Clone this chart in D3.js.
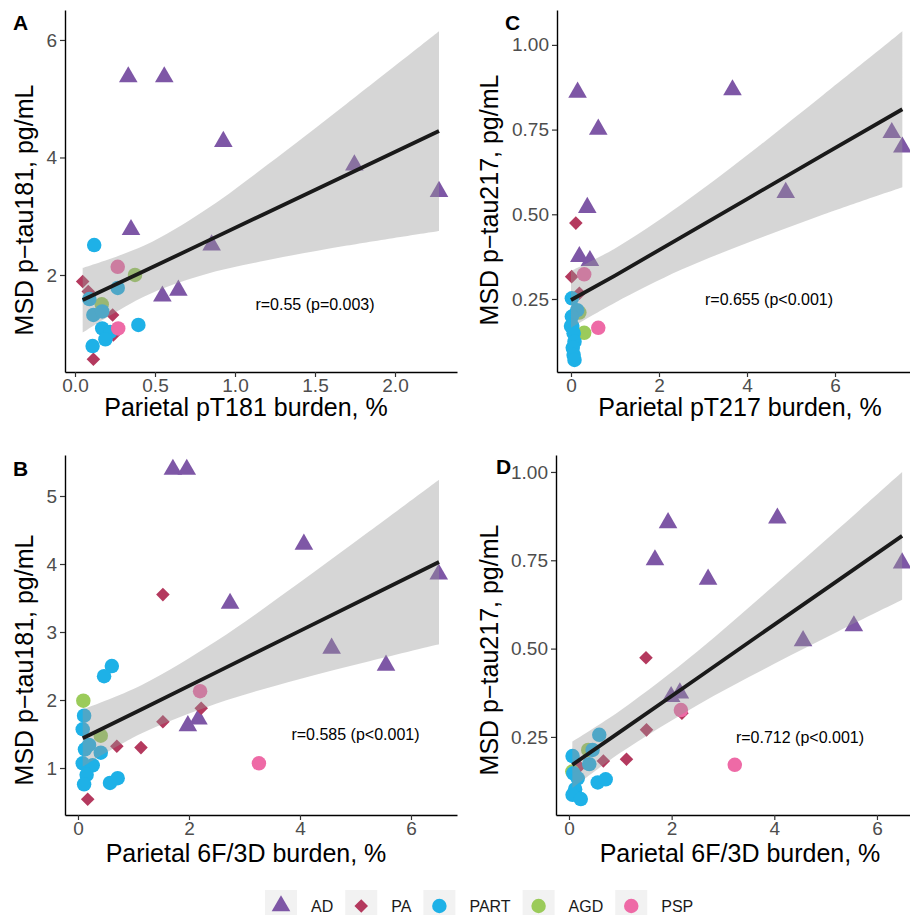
<!DOCTYPE html>
<html>
<head>
<meta charset="utf-8">
<script src="https://cdn.jsdelivr.net/npm/d3@7"></script>
<style>
  body { margin: 0; background: #fff; }
  svg { display: block; font-family: "Liberation Sans", Arial, sans-serif; }
</style>
</head>
<body>
<svg width="910" height="915"></svg>
<script>
// groups, legend order
const groups = ["AD", "PA", "PART", "AGD", "PSP"];
const groupColors = ["#7E57A6", "#B4395E", "#1EB1E7", "#9BCB5A", "#EE6AA6"];
// draw order (later = on top)
const drawOrder = ["AD", "PA", "AGD", "PART", "PSP"];

// [group, burden %, MSD value]
const pointsA = [
  ["AD", 0.333, 5.37], ["AD", 0.558, 5.37], ["AD", 0.927, 4.27], ["AD", 0.35, 2.77],
  ["AD", 0.854, 2.51], ["AD", 0.546, 1.64], ["AD", 0.646, 1.74], ["AD", 1.746, 3.87],
  ["AD", 2.275, 3.42],
  ["PA", 0.048, 1.89], ["PA", 0.083, 1.72], ["PA", 0.235, 1.32], ["PA", 0.24, 0.98],
  ["PA", 0.115, 0.565],
  ["AGD", 0.375, 2.0], ["AGD", 0.167, 1.5],
  ["PART", 0.12, 2.51], ["PART", 0.267, 1.78], ["PART", 0.09, 1.59], ["PART", 0.115, 1.32],
  ["PART", 0.17, 1.38], ["PART", 0.17, 1.09], ["PART", 0.22, 1.03], ["PART", 0.19, 0.905],
  ["PART", 0.396, 1.15], ["PART", 0.11, 0.79],
  ["PSP", 0.267, 2.14], ["PSP", 0.27, 1.09]
];
const pointsB = [
  ["AD", 1.71, 5.39], ["AD", 1.96, 5.39], ["AD", 2.74, 3.42], ["AD", 1.98, 1.62],
  ["AD", 2.17, 1.72], ["AD", 4.07, 4.29], ["AD", 6.5, 3.85], ["AD", 4.57, 2.76],
  ["AD", 5.55, 2.51],
  ["PA", 1.53, 3.55], ["PA", 1.53, 1.68], ["PA", 2.22, 1.88], ["PA", 0.7, 1.32],
  ["PA", 1.135, 1.3], ["PA", 0.175, 0.54], ["PA", 0.19, 0.97],
  ["AGD", 0.096, 1.99], ["AGD", 0.41, 1.475],
  ["PART", 0.61, 2.5], ["PART", 0.47, 2.35], ["PART", 0.11, 1.77], ["PART", 0.085, 1.57],
  ["PART", 0.126, 1.275], ["PART", 0.2, 1.34], ["PART", 0.41, 1.225], ["PART", 0.085, 1.07],
  ["PART", 0.265, 1.04], ["PART", 0.156, 0.9], ["PART", 0.11, 0.76], ["PART", 0.577, 0.78],
  ["PART", 0.715, 0.85],
  ["PSP", 2.2, 2.13], ["PSP", 3.26, 1.07]
];
const pointsC = [
  ["AD", 0.15, 0.86], ["AD", 0.62, 0.751], ["AD", 0.37, 0.52], ["AD", 0.19, 0.375],
  ["AD", 0.43, 0.363], ["AD", 3.67, 0.867], ["AD", 4.88, 0.564], ["AD", 7.29, 0.741],
  ["AD", 7.53, 0.698],
  ["PA", 0.11, 0.474], ["PA", 0.015, 0.316], ["PA", 0.19, 0.267],
  ["AGD", 0.3, 0.15], ["AGD", 0.19, 0.21],
  ["PART", 0.02, 0.252], ["PART", 0.14, 0.217], ["PART", 0.02, 0.198], ["PART", 0.0, 0.17],
  ["PART", 0.03, 0.17], ["PART", 0.06, 0.149], ["PART", 0.08, 0.124], ["PART", 0.04, 0.106],
  ["PART", 0.06, 0.085], ["PART", 0.08, 0.07],
  ["PSP", 0.3, 0.323], ["PSP", 0.62, 0.165]
];
const pointsD = [
  ["AD", 1.93, 0.856], ["AD", 1.675, 0.751], ["AD", 2.71, 0.696], ["AD", 1.99, 0.364],
  ["AD", 2.16, 0.374], ["AD", 4.06, 0.869], ["AD", 6.49, 0.742], ["AD", 4.56, 0.522],
  ["AD", 5.55, 0.564],
  ["PA", 1.5, 0.474], ["PA", 1.51, 0.27], ["PA", 2.2, 0.317], ["PA", 0.67, 0.182],
  ["PA", 1.12, 0.187], ["PA", 0.2, 0.166],
  ["AGD", 0.065, 0.152], ["AGD", 0.375, 0.213],
  ["PART", 0.59, 0.256], ["PART", 0.07, 0.196], ["PART", 0.46, 0.213], ["PART", 0.395, 0.173],
  ["PART", 0.085, 0.147], ["PART", 0.17, 0.133], ["PART", 0.56, 0.121], ["PART", 0.715, 0.13],
  ["PART", 0.12, 0.102], ["PART", 0.07, 0.086], ["PART", 0.23, 0.074],
  ["PSP", 2.18, 0.326], ["PSP", 3.23, 0.171]
];

// linear fit with 95% band: [x, lower, fit, upper]
const fitA = [[0.048, 1.02, 1.574, 2.12], [0.433, 1.635, 2.067, 2.5], [0.8, 2.0, 2.542, 3.08],
  [1.2, 2.25, 3.06, 3.87], [1.7, 2.5, 3.707, 4.92], [2.275, 2.75, 4.45, 6.15]];
const fitB = [[0.085, 1.02, 1.437, 1.86], [1.15, 1.51, 1.864, 2.22], [2.5, 1.95, 2.41, 2.87],
  [4.0, 2.31, 3.017, 3.73], [5.25, 2.57, 3.522, 4.48], [6.505, 2.82, 4.03, 5.24]];
const fitC = [[0.0, 0.165, 0.247, 0.333], [1, 0.239, 0.319, 0.399], [2.5, 0.336, 0.432, 0.528],
  [4, 0.415, 0.545, 0.674], [5.75, 0.5, 0.677, 0.854], [7.53, 0.58, 0.81, 1.04]];
const fitD = [[0.065, 0.105, 0.171, 0.237], [1, 0.205, 0.265, 0.325], [2.5, 0.34, 0.416, 0.492],
  [4, 0.457, 0.568, 0.679], [5.25, 0.549, 0.694, 0.839], [6.49, 0.638, 0.819, 1.0]];

const xTicksA = [0, 0.5, 1, 1.5, 2];
const xTicks6 = [0, 2, 4, 6];
const yTicks181A = [2, 4, 6];
const yTicks181B = [1, 2, 3, 4, 5];
const yTicks217 = [0.25, 0.5, 0.75, 1];

const corrLabels = ["r=0.55 (p=0.003)", "r=0.585 (p<0.001)", "r=0.655 (p<0.001)", "r=0.712 (p<0.001)"];

// pixel boxes, domains and title spots per panel
const panels = [
  { tag: "A", pts: pointsA, fit: fitA, l: 65, r: 457, t: 10, b: 372, xd: [-0.0625, 2.3875], yd: [0.349, 6.51],
    xt: xTicksA, xf: d3.format(".1f"), yt: yTicks181A, yf: d3.format("d"),
    xtitle: "Parietal pT181 burden, %", ytitle: "MSD p\u2212tau181, pg/mL", corr: corrLabels[0], cx: 1.5, cy: 1.5,
    xtx: 246, xty: 416, ytx: 33, yty: 210, tagx: 13, tagy: 30 },
  { tag: "B", pts: pointsB, fit: fitB, l: 65, r: 457, t: 455, b: 815, xd: [-0.234, 6.829], yd: [0.309, 5.603],
    xt: xTicks6, xf: d3.format("d"), yt: yTicks181B, yf: d3.format("d"),
    xtitle: "Parietal 6F/3D burden, %", ytitle: "MSD p\u2212tau181, pg/mL", corr: corrLabels[1], cx: 5.0, cy: 1.5,
    xtx: 246, xty: 862, ytx: 33, yty: 660, tagx: 13, tagy: 476 },
  { tag: "C", pts: pointsC, fit: fitC, l: 557, r: 918, t: 10, b: 372, xd: [-0.318, 7.886], yd: [0.0345, 1.103],
    xt: xTicks6, xf: d3.format("d"), yt: yTicks217, yf: d3.format(".2f"),
    xtitle: "Parietal pT217 burden, %", ytitle: "MSD p\u2212tau217, pg/mL", corr: corrLabels[2], cx: 4.5, cy: 0.25,
    xtx: 740, xty: 416, ytx: 498, yty: 200, tagx: 505, tagy: 30 },
  { tag: "D", pts: pointsD, fit: fitD, l: 556, r: 919, t: 455, b: 815, xd: [-0.253, 6.819], yd: [0.029, 1.048],
    xt: xTicks6, xf: d3.format("d"), yt: yTicks217, yf: d3.format(".2f"),
    xtitle: "Parietal 6F/3D burden, %", ytitle: "MSD p\u2212tau217, pg/mL", corr: corrLabels[3], cx: 4.5, cy: 0.25,
    xtx: 740, xty: 862, ytx: 498, yty: 650, tagx: 496, tagy: 474 }
];

const color = d3.scaleOrdinal().domain(groups).range(groupColors);
const symbols = {
  AD: d3.symbol(d3.symbolTriangle, 150)(),
  PA: d3.symbol(d3.symbolSquare, 92)(),
  PART: d3.symbol(d3.symbolCircle, 165)(),
  AGD: d3.symbol(d3.symbolCircle, 165)(),
  PSP: d3.symbol(d3.symbolCircle, 165)()
};
const rot = (g) => (g === "PA" ? " rotate(45)" : "");

const svg = d3.select("svg");

panels.forEach((p) => {
  const x = d3.scaleLinear().domain(p.xd).range([p.l, p.r]);
  const y = d3.scaleLinear().domain(p.yd).range([p.b, p.t]);
  const g = svg.append("g");

  const pts = drawOrder.flatMap((k) => p.pts.filter((d) => d[0] === k));
  g.selectAll(".pt")
    .data(pts)
    .enter()
    .append("path")
    .attr("class", "pt")
    .attr("d", (d) => symbols[d[0]])
    .attr("transform", (d) => `translate(${x(d[1])},${y(d[2])})${rot(d[0])}`)
    .attr("fill", (d) => color(d[0]));

  // confidence band over the points, then the fit line
  g.append("path")
    .datum(p.fit)
    .attr("d", d3.area().x((d) => x(d[0])).y0((d) => y(d[1])).y1((d) => y(d[3])).curve(d3.curveCatmullRom))
    .attr("fill", "#999999")
    .attr("fill-opacity", 0.4);

  g.append("path")
    .datum(p.fit)
    .attr("d", d3.line().x((d) => x(d[0])).y((d) => y(d[2])))
    .attr("fill", "none")
    .attr("stroke", "#1a1a1a")
    .attr("stroke-width", 3.8);

  const xAxis = g.append("g")
    .attr("transform", `translate(0,${p.b})`)
    .call(d3.axisBottom(x).tickValues(p.xt).tickFormat(p.xf).tickSize(5).tickSizeOuter(0).tickPadding(2));
  const yAxis = g.append("g")
    .attr("transform", `translate(${p.l},0)`)
    .call(d3.axisLeft(y).tickValues(p.yt).tickFormat(p.yf).tickSize(5).tickSizeOuter(0).tickPadding(3));

  [xAxis, yAxis].forEach((a) => {
    a.select(".domain").attr("stroke", "#000").attr("stroke-width", 1.4);
    a.selectAll(".tick line").attr("stroke", "#333").attr("stroke-width", 1.2);
    a.selectAll(".tick text").attr("fill", "#4d4d4d").attr("font-size", 19).attr("font-family", null);
  });

  g.append("text")
    .attr("x", p.xtx)
    .attr("y", p.xty)
    .attr("text-anchor", "middle")
    .attr("font-size", 25)
    .text(p.xtitle);

  g.append("text")
    .attr("transform", `translate(${p.ytx},${p.yty}) rotate(-90)`)
    .attr("text-anchor", "middle")
    .attr("font-size", 25)
    .text(p.ytitle);

  g.append("text")
    .attr("x", x(p.cx))
    .attr("y", y(p.cy))
    .attr("dy", "0.35em")
    .attr("text-anchor", "middle")
    .attr("font-size", 16)
    .text(p.corr);

  g.append("text")
    .attr("x", p.tagx)
    .attr("y", p.tagy)
    .attr("font-size", 21)
    .attr("font-weight", "bold")
    .text(p.tag);
});

// legend
const legend = svg.append("g").attr("transform", "translate(265,890)");
let lx = 0;
groups.forEach((k) => {
  const item = legend.append("g").attr("transform", `translate(${lx},0)`);
  item.append("rect").attr("width", 32).attr("height", 32).attr("fill", "#f2f2f2");
  item.append("path")
    .attr("d", symbols[k])
    .attr("transform", `translate(16,16)${rot(k)}`)
    .attr("fill", color(k));
  const t = item.append("text")
    .attr("x", 46)
    .attr("y", 16)
    .attr("dy", "0.35em")
    .attr("font-size", 16)
    .attr("fill", "#1a1a1a")
    .text(k);
  lx += 46 + t.node().getComputedTextLength() + 12;
});
</script>
</body>
</html>
